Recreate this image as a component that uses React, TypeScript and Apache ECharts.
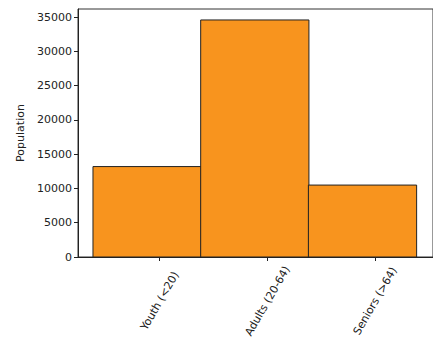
import React, { useEffect, useRef } from "react";
import * as echarts from "echarts";

const categories = ["Youth (<20)", "Adults (20-64)", "Seniors (>64)"];
const population = [13200, 34600, 10500];
const yTicks = [0, 5000, 10000, 15000, 20000, 25000, 30000, 35000];
const yAxisTitle = "Population";

export default function App() {
  const ref = useRef<HTMLDivElement>(null);

  useEffect(() => {
    if (!ref.current) return;
    const chart = echarts.init(ref.current, null, { renderer: "svg" });
    const font = "DejaVu Sans";
    const positions = categories.map((_, i) => i);
    const leftOff = -0.62;
    const rightOff = 0.385;

    chart.setOption({
      animation: false,
      backgroundColor: "#ffffff",
      grid: { left: 78, top: 9, width: 356, height: 248, show: true, borderColor: "#333", borderWidth: 1 },
      xAxis: {
        type: "value",
        min: -0.759,
        max: 2.537,
        splitLine: { show: false },
        axisLine: { show: true, onZero: false, lineStyle: { color: "#222", width: 1 } },
        axisTick: { show: true, length: 4, lineStyle: { color: "#222" }, customValues: positions },
        axisLabel: {
          customValues: positions,
          formatter: (v: number) => categories[Math.round(v)] ?? "",
          rotate: 60,
          align: "center",
          verticalAlign: "middle",
          margin: 44,
          fontFamily: font,
          fontSize: 11,
          color: "#222",
        },
      },
      yAxis: {
        type: "value",
        min: 0,
        max: 36200,
        name: yAxisTitle,
        nameLocation: "middle",
        nameGap: 45,
        nameTextStyle: { fontFamily: font, fontSize: 11, color: "#222" },
        splitLine: { show: false },
        axisLine: { show: true, onZero: false, lineStyle: { color: "#222", width: 1 } },
        axisTick: { show: true, length: 4, lineStyle: { color: "#222" }, customValues: yTicks },
        axisLabel: {
          customValues: yTicks,
          formatter: (v: number) => String(v),
          margin: 6,
          fontFamily: font,
          fontSize: 11,
          color: "#222",
        },
      },
      series: [
        {
          type: "custom",
          data: population.map((v, i) => [positions[i], v]),
          renderItem: (params: any, api: any) => {
            const x = api.value(0);
            const v = api.value(1);
            const p0 = api.coord([x + leftOff, v]);
            const p1 = api.coord([x + rightOff, 0]);
            return {
              type: "rect",
              shape: { x: p0[0], y: p0[1], width: p1[0] - p0[0], height: p1[1] - p0[1] },
              style: { fill: "#f8941e", stroke: "#222", lineWidth: 1 },
            };
          },
        },
      ],
    });
    return () => chart.dispose();
  }, []);

  return (
    <div
      ref={ref}
      style={{ position: "fixed", left: 0, top: 0, width: 433, height: 345, background: "#fff" }}
    />
  );
}
